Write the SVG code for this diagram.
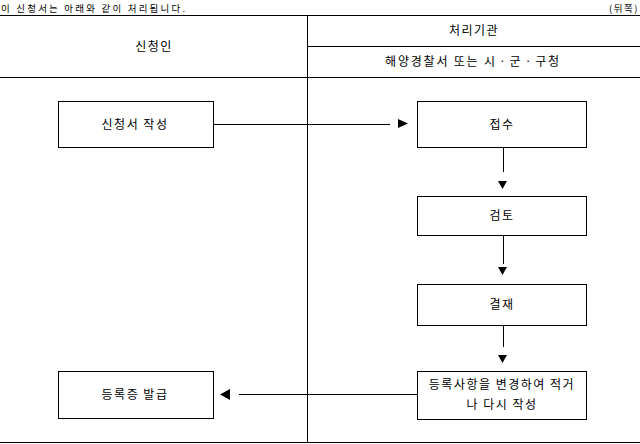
<svg xmlns="http://www.w3.org/2000/svg" width="640" height="444" viewBox="0 0 640 444">
<style>
text{font-family:"Noto Sans CJK KR","Noto Sans",sans-serif;font-size:12px;fill:#000;letter-spacing:1.5px}
.c{text-anchor:middle}
.w{letter-spacing:1.8px}
.s{font-size:9.5px;letter-spacing:2.2px}
.ln{stroke:#000;stroke-width:1;fill:none}
.box{stroke:#000;stroke-width:1;fill:#fff}
.ah{fill:#000;stroke:none}
</style>
<rect width="640" height="444" fill="#fff"/>
<g id="frame">
<text class="s" x="1" y="11.5">이 신청서는 아래와 같이 처리됩니다.</text>
<text class="s" x="639" y="11.5" style="text-anchor:end;letter-spacing:1.5px">(뒤쪽)</text>
<line class="ln" x1="0" y1="15.5" x2="640" y2="15.5"/>
<line class="ln" x1="307.5" y1="15" x2="307.5" y2="443"/>
<line class="ln" x1="307" y1="46.5" x2="640" y2="46.5"/>
<line class="ln" x1="0" y1="77.5" x2="640" y2="77.5"/>
<line class="ln" x1="0" y1="442.5" x2="640" y2="442.5"/>
<text class="c" x="154" y="51">신청인</text>
<text class="c" x="474" y="35">처리기관</text>
<text class="c w" x="473" y="66">해양경찰서 또는 시ㆍ군ㆍ구청</text>
</g>
<g id="connectors">
<line class="ln" x1="213" y1="124.5" x2="390" y2="124.5"/>
<polygon class="ah" points="398,119 408,123.5 398,128"/>
<line class="ln" x1="503.5" y1="147" x2="503.5" y2="172"/>
<polygon class="ah" points="498,181 507,181 502.5,189"/>
<line class="ln" x1="503.5" y1="235" x2="503.5" y2="264"/>
<polygon class="ah" points="498,267 507,267 502.5,275"/>
<line class="ln" x1="503.5" y1="325" x2="503.5" y2="347"/>
<polygon class="ah" points="498,355 507,355 502.5,363"/>
<line class="ln" x1="417" y1="394.5" x2="239" y2="394.5"/>
<polygon class="ah" points="230,389 220,394.5 230,400"/>
</g>
<g id="n1">
<rect class="box" x="58.5" y="101.5" width="155" height="46"/>
<text class="c" x="135" y="129">신청서 작성</text>
</g>
<g id="n2">
<rect class="box" x="417.5" y="101.5" width="169" height="46"/>
<text class="c" x="502" y="129">접수</text>
</g>
<g id="n3">
<rect class="box" x="417.5" y="196.5" width="169" height="39"/>
<text class="c" x="502" y="220">검토</text>
</g>
<g id="n4">
<rect class="box" x="417.5" y="284.5" width="169" height="41"/>
<text class="c" x="502" y="309">결재</text>
</g>
<g id="n5">
<rect class="box" x="417.5" y="371.5" width="169" height="48"/>
<text class="c" x="502" y="389">등록사항을 변경하여 적거</text>
<text class="c" x="502" y="409">나 다시 작성</text>
</g>
<g id="n6">
<rect class="box" x="58.5" y="371.5" width="155" height="47"/>
<text class="c" x="135" y="399">등록증 발급</text>
</g>
</svg>
